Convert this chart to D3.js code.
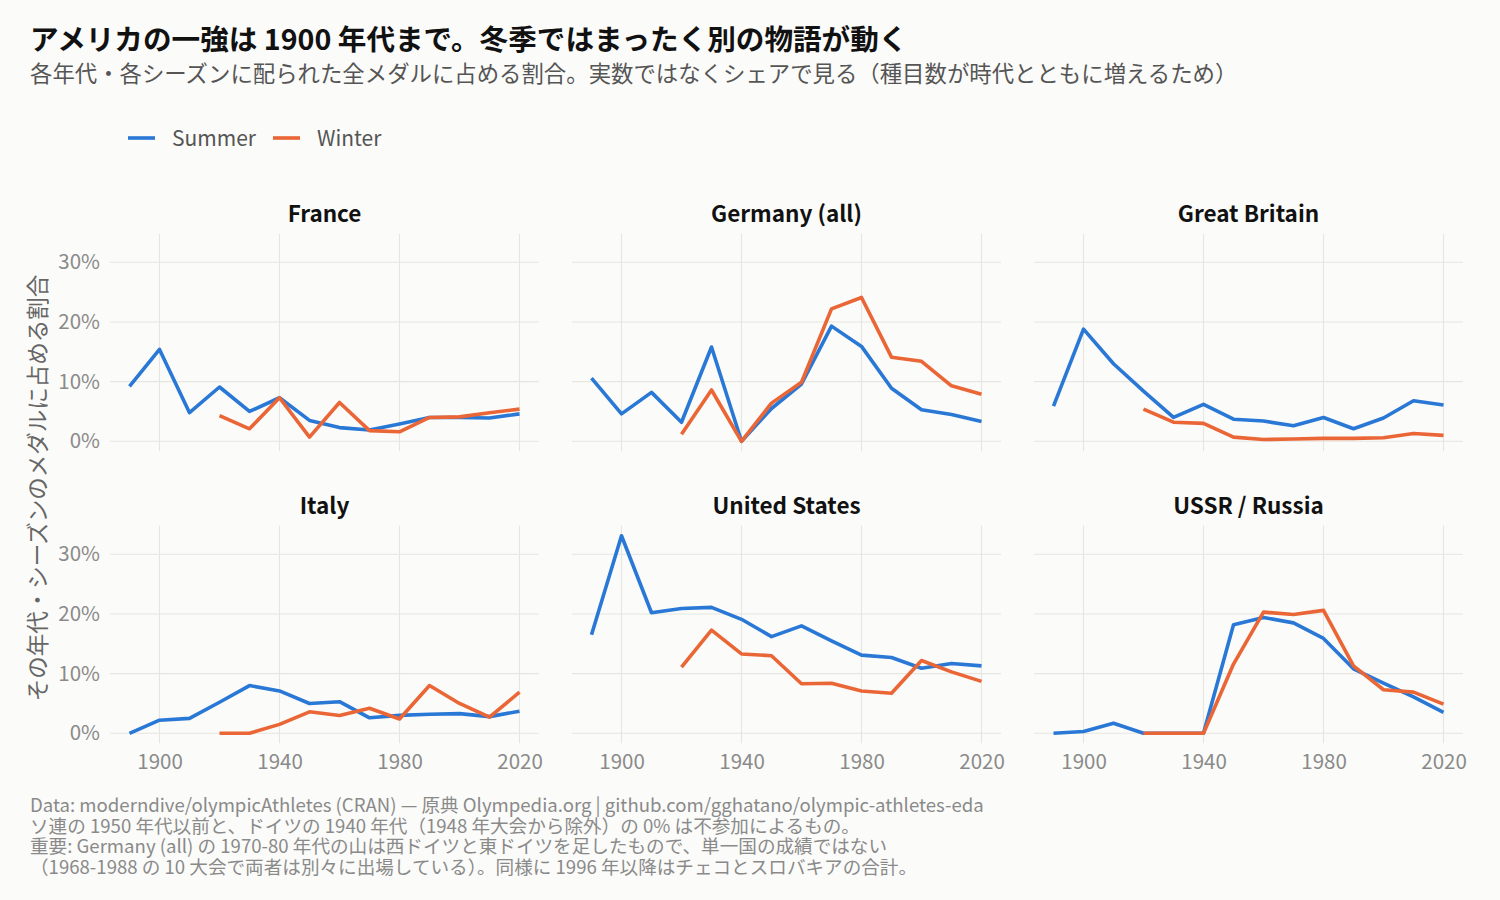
<!DOCTYPE html>
<html>
<head>
<meta charset="utf-8">
<script src="https://cdn.jsdelivr.net/npm/d3@7"></script>
<style>
  body { margin: 0; background: #fbfbf9; }
  svg { font-family: "Noto Sans CJK JP", "Noto Sans", sans-serif; }
</style>
</head>
<body>
<svg id="chart" width="1500" height="900"></svg>
<script>
// decades on the x axis
const decades = [1890, 1900, 1910, 1920, 1930, 1940, 1950, 1960, 1970, 1980, 1990, 2000, 2010, 2020]
const countries = ["France", "Germany (all)", "Great Britain", "Italy", "United States", "USSR / Russia"]

// share of all medals (%), null = no games
const summerFrance  = [9.2, 15.4, 4.8, 9.1, 5.0, 7.3, 3.5, 2.3, 1.9, 2.9, 4.0, 4.0, 3.9, 4.6]
const winterFrance  = [null, null, null, 4.3, 2.1, 7.3, 0.7, 6.5, 1.8, 1.6, 4.0, 4.1, 4.8, 5.4]
const summerGermany = [10.6, 4.6, 8.2, 3.2, 15.8, 0, 5.5, 9.6, 19.3, 15.9, 8.9, 5.3, 4.5, 3.3]
const winterGermany = [null, null, null, 1.2, 8.6, 0, 6.4, 9.9, 22.2, 24.1, 14.1, 13.4, 9.3, 7.9]
const summerGB      = [5.9, 18.8, 13.0, 8.4, 4.0, 6.2, 3.7, 3.4, 2.6, 4.0, 2.1, 3.9, 6.8, 6.1]
const winterGB      = [null, null, null, 5.4, 3.2, 3.0, 0.7, 0.3, 0.4, 0.5, 0.5, 0.6, 1.3, 1.0]
const summerItaly   = [0, 2.2, 2.5, 5.2, 8.0, 7.1, 5.0, 5.3, 2.6, 3.0, 3.2, 3.3, 2.8, 3.7]
const winterItaly   = [null, null, null, 0, 0, 1.5, 3.6, 3.0, 4.2, 2.4, 8.0, 5.0, 2.7, 6.9]
const summerUS      = [16.5, 33.1, 20.2, 20.9, 21.1, 19.1, 16.2, 18.0, 15.5, 13.1, 12.7, 10.9, 11.7, 11.3]
const winterUS      = [null, null, null, 11.1, 17.3, 13.3, 13.0, 8.3, 8.4, 7.1, 6.7, 12.2, 10.3, 8.7]
const summerUSSR    = [0, 0.3, 1.7, 0, 0, 0, 18.2, 19.4, 18.5, 15.9, 10.8, 8.4, 6.1, 3.5]
const winterUSSR    = [null, null, null, 0, 0, 0, 11.6, 20.3, 19.9, 20.6, 11.3, 7.3, 6.9, 4.9]

const summerSeries = [summerFrance, summerGermany, summerGB, summerItaly, summerUS, summerUSSR]
const winterSeries = [winterFrance, winterGermany, winterGB, winterItaly, winterUS, winterUSSR]

const yTicks = [0, 10, 20, 30]
const xTicks = [1900, 1940, 1980, 2020]
const seasons = ["Summer", "Winter"]
const colors = {Summer: "#2a78d6", Winter: "#ea6636"}

const captionLines = [
  "Data: moderndive/olympicAthletes (CRAN) — 原典 Olympedia.org | github.com/gghatano/olympic-athletes-eda",
  "ソ連の 1950 年代以前と、ドイツの 1940 年代（1948 年大会から除外）の 0% は不参加によるもの。",
  "重要: Germany (all) の 1970-80 年代の山は西ドイツと東ドイツを足したもので、単一国の成績ではない",
  "（1968-1988 の 10 大会で両者は別々に出場している）。同様に 1996 年以降はチェコとスロバキアの合計。"
]

var svg = d3.select("#chart")

// panel layout
var colLeft = [110, 572, 1034]
var rowTop = [233.6, 525.6]
var panelW = 429
var panelH = 217.6

var xScale = d3.scaleLinear().domain([1883.5, 2026.5]).range([0, panelW])
var yScale = d3.scaleLinear().domain([-1.655, 34.8]).range([panelH, 0])

// title
svg.append("text").attr("x", 30).attr("y", 50)
    .attr("font-size", 28.6).attr("font-weight", "bold").attr("fill", "#111")
    .text("アメリカの一強は 1900 年代まで。冬季ではまったく別の物語が動く")
svg.append("text").attr("x", 30).attr("y", 82)
    .attr("font-size", 22.4).attr("fill", "#555")
    .text("各年代・各シーズンに配られた全メダルに占める割合。実数ではなくシェアで見る（種目数が時代とともに増えるため）")

// legend
var legendX = [128, 273]
seasons.forEach((s, i) => {
    var g = svg.append("g").attr("transform", `translate(${legendX[i]},138)`)
    g.append("line").attr("x1", 0).attr("x2", 27).attr("y1", 0).attr("y2", 0)
        .attr("stroke", colors[s]).attr("stroke-width", 3.6)
    g.append("text").attr("x", 44).attr("y", 7.5).attr("font-size", 21).attr("fill", "#555").text(s)
})

countries.forEach((name, i) => {
    var col = i % 3, row = Math.floor(i / 3)
    var g = svg.append("g").attr("transform", `translate(${colLeft[col]},${rowTop[row]})`)

    // grid
    g.selectAll(".hgrid").data(yTicks).enter().append("line")
        .attr("x1", 0).attr("x2", panelW)
        .attr("y1", d => yScale(d)).attr("y2", d => yScale(d))
        .attr("stroke", "#e6e5e0").attr("stroke-width", 1.1)
    g.selectAll(".vgrid").data(xTicks).enter().append("line")
        .attr("x1", d => xScale(d)).attr("x2", d => xScale(d))
        .attr("y1", 0).attr("y2", panelH)
        .attr("stroke", "#e6e5e0").attr("stroke-width", 1.1)

    // strip title
    g.append("text").attr("x", panelW / 2).attr("y", -12)
        .attr("text-anchor", "middle").attr("font-size", 22.5).attr("font-weight", "bold")
        .attr("fill", "#111").text(name)

    if (col == 0) {
        var yAxis = d3.axisLeft(yScale).tickValues(yTicks).tickSize(0).tickPadding(10)
            .tickFormat(d => d + "%")
        var ya = g.append("g").call(yAxis)
        ya.select(".domain").remove()
        ya.selectAll("text").attr("font-size", 20.5).attr("fill", "#8a8a8a")
            .attr("font-family", "Noto Sans CJK JP")
    }
    if (row == 1) {
        var xAxis = d3.axisBottom(xScale).tickValues(xTicks).tickSize(0).tickPadding(11)
            .tickFormat(d3.format("d"))
        var xa = g.append("g").attr("transform", `translate(0,${panelH})`).call(xAxis)
        xa.select(".domain").remove()
        xa.selectAll("text").attr("font-size", 20.5).attr("fill", "#8a8a8a")
            .attr("font-family", "Noto Sans CJK JP")
    }

    var line = d3.line()
        .defined(d => d[1] != null)
        .x(d => xScale(d[0]))
        .y(d => yScale(d[1]))

    var pairs = [summerSeries[i], winterSeries[i]]
    pairs.forEach((vals, k) => {
        var dataset = decades.map((dec, j) => [dec, vals[j]])
        g.append("path").datum(dataset)
            .attr("fill", "none")
            .attr("stroke", colors[seasons[k]])
            .attr("stroke-width", 3.6)
            .attr("stroke-linejoin", "round")
            .attr("d", line)
    })
})

// y axis title
svg.append("text")
    .attr("transform", "translate(46,488) rotate(-90)")
    .attr("text-anchor", "middle").attr("font-size", 22.5).attr("fill", "#666")
    .text("その年代・シーズンのメダルに占める割合")

// caption
captionLines.forEach((t, i) => {
    svg.append("text").attr("x", 30).attr("y", 812 + i * 20.7)
        .attr("font-size", 18.6).attr("fill", "#8a8a8a").text(t)
})
</script>
</body>
</html>
